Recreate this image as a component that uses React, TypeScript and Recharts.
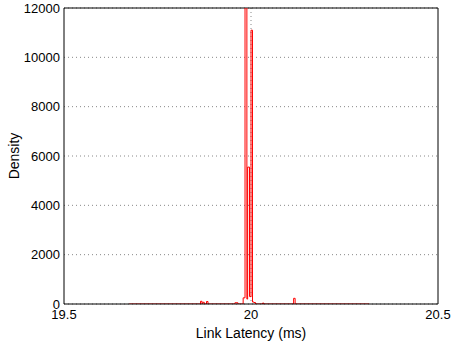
import { LineChart, Line, XAxis, YAxis, CartesianGrid, ReferenceLine } from "recharts"

// histogram bins: start of each bin (ms) and its density
const latencyMs = [
  19.674, 19.865, 19.869, 19.871, 19.875, 19.881, 19.885, 19.957, 19.965, 19.979,
  19.984, 19.989, 19.991, 19.996, 20.0, 20.004, 20.008, 20.012, 20.016, 20.031,
  20.034, 20.114, 20.118, 20.316,
]
const density = [
  0, 110, 0, 70, 0, 100, 0, 50, 0, 250,
  12500, 200, 5550, 300, 11100, 80, 60, 0, 0, 40,
  0, 230, 0, 0,
]
const xTicks = [19.5, 20, 20.5]
const yTicks = [0, 2000, 4000, 6000, 8000, 10000, 12000]

const data = latencyMs.map((x, i) => ({ x, density: density[i] }))

const font = { fontFamily: "'Liberation Sans', Arial, sans-serif", fontSize: 13, fill: "#000" }

export default function App() {
  return (
    <div style={{ position: "absolute", left: 0, top: 0, width: 451, height: 345, background: "#fff" }}>
      <LineChart width={451} height={345} data={data} margin={{ top: 8, right: 13, left: 0, bottom: 0 }}>
        <CartesianGrid stroke="#888" strokeDasharray="1 3" verticalPoints={[251]} />
        <XAxis
          dataKey="x"
          type="number"
          domain={[19.5, 20.5]}
          ticks={xTicks}
          height={41}
          tickLine={false}
          tickSize={0}
          tickMargin={6}
          axisLine={{ stroke: "#000" }}
          tick={font}
          label={{ value: "Link Latency (ms)", position: "center", dy: 9, style: { ...font, fontSize: 14 } }}
        />
        <YAxis
          type="number"
          domain={[0, 12000]}
          ticks={yTicks}
          allowDataOverflow
          width={64}
          tickLine={false}
          tickSize={0}
          tickMargin={4}
          axisLine={{ stroke: "#000" }}
          tick={font}
          label={{ value: "Density", angle: -90, position: "center", dx: -18, style: { ...font, fontSize: 14 } }}
        />
        <ReferenceLine y={12000} stroke="#000" />
        <ReferenceLine x={20.5} stroke="#000" />
        <Line
          dataKey="density"
          type="stepAfter"
          stroke="#ff0000"
          strokeWidth={1}
          dot={false}
          isAnimationActive={false}
        />
      </LineChart>
    </div>
  )
}
